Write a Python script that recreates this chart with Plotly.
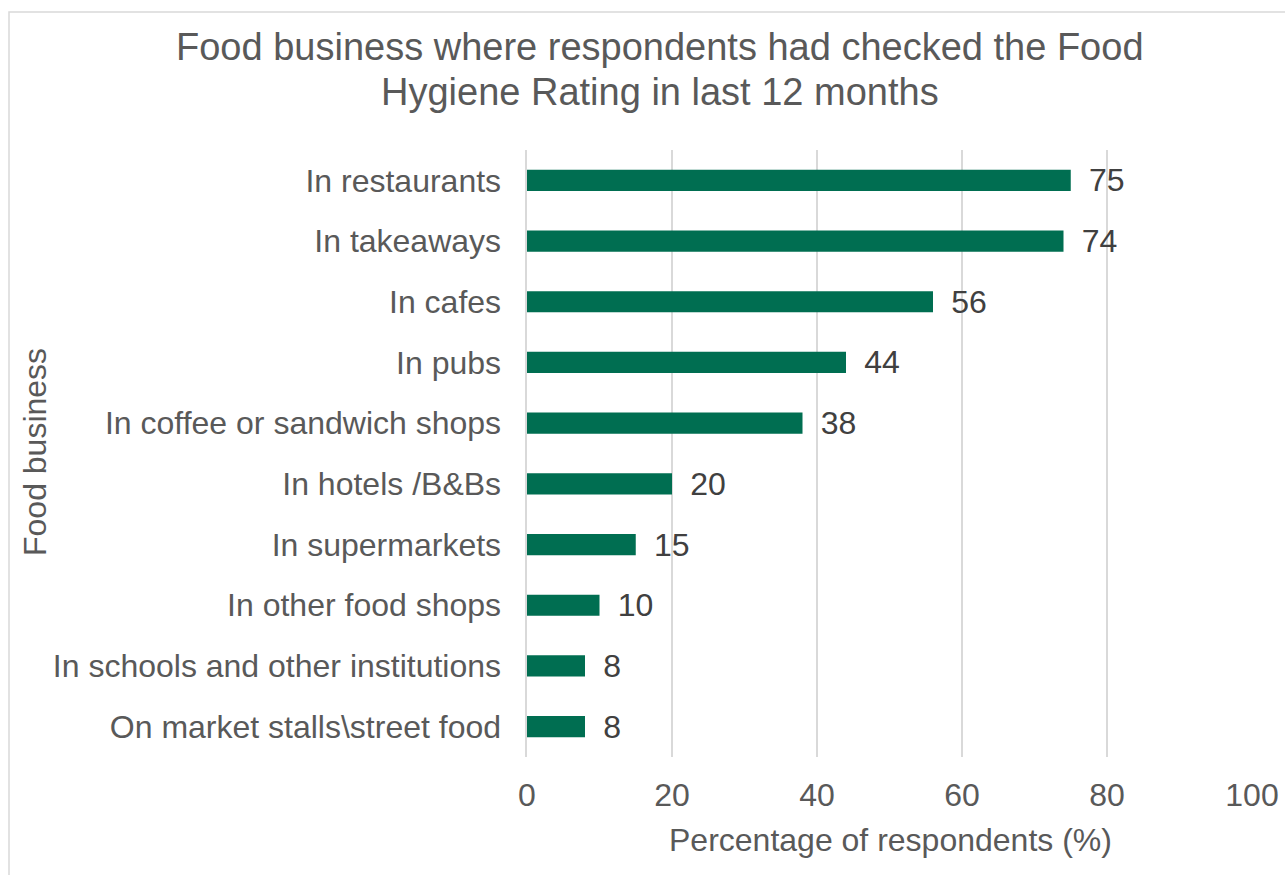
import plotly.graph_objects as go

# Share of respondents who checked the Food Hygiene Rating, by type of food business
categories = [
    "In restaurants",
    "In takeaways",
    "In cafes",
    "In pubs",
    "In coffee or sandwich shops",
    "In hotels /B&Bs",
    "In supermarkets",
    "In other food shops",
    "In schools and other institutions",
    "On market stalls\\street food",
]
values = [75, 74, 56, 44, 38, 20, 15, 10, 8, 8]
x_ticks = [0, 20, 40, 60, 80, 100]

title_lines = [
    "Food business where respondents had checked the Food",
    "Hygiene Rating in last 12 months",
]
x_title = "Percentage of respondents (%)"
y_title = "Food business"

FONT = "Liberation Sans, Arial, sans-serif"
GREY_TEXT = "#595959"
GRID = "#d9d9d9"
W, H = 1285, 875
ML, MR, MT, MB = 527, 33, 150, 118
PW, PH = W - ML - MR, H - MT - MB

fig = go.Figure(
    go.Bar(
        x=values,
        y=categories,
        orientation="h",
        marker=dict(color="#006E51", line=dict(width=0)),
        width=0.35,
        text=[" \u2009" + str(v) for v in values],
        textposition="outside",
        constraintext="none",
        textfont=dict(family=FONT, size=32, color="#404040"),
        cliponaxis=False,
    )
)

annotations = [
    dict(
        text=title_lines[0], x=660, y=H - 47,
        font=dict(family=FONT, size=38, color=GREY_TEXT),
    ),
    dict(
        text=title_lines[1], x=660, y=H - 92,
        font=dict(family=FONT, size=38, color=GREY_TEXT),
    ),
    dict(
        text=x_title, x=890, y=H - 840,
        font=dict(family=FONT, size=32, color=GREY_TEXT),
    ),
    dict(
        text=y_title, x=35, y=H - 452, textangle=-90,
        font=dict(family=FONT, size=32, color=GREY_TEXT),
    ),
]
# convert pixel positions to paper coordinates
for a in annotations:
    a.update(
        xref="paper", yref="paper",
        x=(a["x"] - ML) / PW, y=(a["y"] - MB) / PH,
        xanchor="center", yanchor="middle", showarrow=False,
    )

fig.update_layout(
    width=W,
    height=H,
    paper_bgcolor="white",
    plot_bgcolor="white",
    margin=dict(l=ML, r=MR, t=MT, b=MB, autoexpand=False),
    showlegend=False,
    font=dict(family=FONT, color=GREY_TEXT),
    annotations=annotations,
    xaxis=dict(
        range=[0, 100],
        tickvals=x_ticks,
        automargin=False,
        showgrid=True,
        gridcolor=GRID,
        gridwidth=1.5,
        zeroline=False,
        showline=False,
        ticks="",
        ticklabelstandoff=16,
        tickfont=dict(family=FONT, size=32, color=GREY_TEXT),
    ),
    yaxis=dict(
        autorange="reversed",
        automargin=False,
        showgrid=False,
        zeroline=False,
        showline=True,
        linecolor=GRID,
        linewidth=1.5,
        ticks="",
        ticksuffix="  ",
        tickfont=dict(family=FONT, size=32, color=GREY_TEXT),
    ),
    shapes=[
        dict(
            type="rect",
            xref="paper",
            yref="paper",
            x0=(9 - ML) / PW,
            x1=(W + 5 - ML) / PW,
            y0=(-5 - MB) / PH,
            y1=(H - 12 - MB) / PH,
            line=dict(color=GRID, width=1.5),
            fillcolor="rgba(0,0,0,0)",
            layer="below",
        )
    ],
)

fig.write_html("out.html")
